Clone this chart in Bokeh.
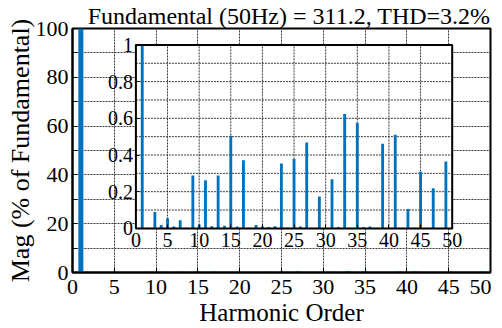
import numpy as np
from bokeh.plotting import figure
from bokeh.models import Range1d, LinearAxis, FixedTicker, PrintfTickFormatter
from bokeh.embed import file_html
from bokeh.resources import INLINE

# ---------------- data ----------------
orders = list(range(1, 51))
mag_pct = [100, 0.004, 0.089, 0.018, 0.055, 0.010, 0.044, 0.004, 0.288, 0.021,
           0.262, 0.012, 0.288, 0.014, 0.505, 0.010, 0.371, 0.004, 0.018, 0.010,
           0.008, 0.012, 0.354, 0.004, 0.378, 0.010, 0.468, 0.001, 0.174, 0.001,
           0.268, 0.008, 0.624, 0.001, 0.575, 0.006, 0.010, 0.003, 0.461, 0.001,
           0.510, 0.001, 0.105, 0.003, 0.309, 0.001, 0.219, 0.001, 0.365, 0.001]

main_xticks = list(range(0, 51, 5))
main_yticks = list(range(0, 101, 10))
main_ylabel_ticks = [0, 20, 40, 60, 80, 100]
inset_xticks = list(range(0, 51, 5))
inset_yticks = [0, 0.2, 0.4, 0.6, 0.8, 1]
inset_ygrid = [0.1, 0.2, 0.3, 0.4, 0.5, 0.6, 0.7, 0.8, 0.9]
inset_xrange = (0, 50)
inset_yrange = (0, 1)

title_text = "Fundamental (50Hz) = 311.2, THD=3.2%"
xlabel = "Harmonic Order"
ylabel = "Mag (% of Fundamental)"

# ---------------- style ----------------
FONT = "Liberation Serif"
BAR = "#0072BD"
GRID = "#3a3a3a"
W, H = 502, 328
FL, FR, FT, FB = 72, 490, 28, 273   # frame edges in figure pixels

p = figure(width=W, height=H, x_range=Range1d(0, 50), y_range=Range1d(0, 100),
           output_backend="svg", toolbar_location=None, title=title_text,
           min_border_left=FL, min_border_right=W - FR,
           min_border_top=FT, min_border_bottom=H - FB)
p.background_fill_color = "white"
p.border_fill_color = "white"
p.outline_line_color = "black"
p.outline_line_width = 2

p.title.text_font = FONT
p.title.text_font_size = "24px"
p.title.text_font_style = "normal"
p.title.text_color = "black"
p.title.align = "right"
p.title.offset = 0
p.title.standoff = 0

xa = p.xaxis[0]
ya = p.yaxis[0]
xa.ticker = FixedTicker(ticks=main_xticks)
ya.ticker = FixedTicker(ticks=main_yticks)
ya.major_label_overrides = {t: ("" if t not in main_ylabel_ticks else str(t)) for t in main_yticks}
# keep the last x label inside the canvas (a figure space pads it to the left)
xa.major_label_overrides = {main_xticks[-1]: str(main_xticks[-1]) + "\u2007"}
for ax in (xa, ya):
    ax.axis_line_color = "black"
    ax.axis_line_width = 2
    ax.major_tick_in = 5
    ax.major_tick_out = 0
    ax.major_tick_line_color = "black"
    ax.minor_tick_line_color = None
    ax.major_label_text_font = FONT
    ax.major_label_text_font_size = "22px"
    ax.major_label_text_color = "black"
    ax.axis_label_text_font = FONT
    ax.axis_label_text_font_style = "normal"
    ax.axis_label_text_color = "black"
xa.axis_label = xlabel
ya.axis_label = ylabel
xa.axis_label_text_font_size = "25px"
ya.axis_label_text_font_size = "26px"
xa.major_label_standoff = 1
xa.axis_label_standoff = -3
ya.major_label_standoff = 4
ya.axis_label_standoff = -2

for g in (p.xgrid[0], p.ygrid[0]):
    g.grid_line_color = GRID
    g.grid_line_dash = "2 1"
    g.grid_line_width = 1

# main bars
p.vbar(x=orders, top=mag_pct, width=0.6, fill_color=BAR, line_color=None)

# ---------------- inset (extra ranges mapped onto the frame) ----------------
IN_L, IN_R = (135.4 - 72) / 418, (451.7 - 72) / 418
IN_B, IN_T = (273 - 228.7) / 245, (273 - 44.5) / 245
ix0, ix1 = inset_xrange
iy0, iy1 = inset_yrange
kx = (ix1 - ix0) / (IN_R - IN_L)
ky = (iy1 - iy0) / (IN_T - IN_B)
p.extra_x_ranges = {"ix": Range1d(ix0 - IN_L * kx, ix1 + (1 - IN_R) * kx)}
p.extra_y_ranges = {"iy": Range1d(iy0 - IN_B * ky, iy1 + (1 - IN_T) * ky)}
R = dict(x_range_name="ix", y_range_name="iy")

p.quad(left=[ix0], right=[ix1], bottom=[iy0], top=[iy1], fill_color="white",
       line_color=None, **R)
gx = [t for t in inset_xticks if ix0 < t < ix1]
p.segment(x0=gx, x1=gx, y0=[iy0] * len(gx), y1=[iy1] * len(gx),
          line_color=GRID, line_dash="2 1", line_width=1, **R)
p.segment(x0=[ix0] * len(inset_ygrid), x1=[ix1] * len(inset_ygrid),
          y0=inset_ygrid, y1=inset_ygrid,
          line_color=GRID, line_dash="2 1", line_width=1, **R)
p.vbar(x=orders, top=np.minimum(np.array(mag_pct), iy1), width=0.45,
       fill_color=BAR, line_color=None, **R)
p.quad(left=[ix0], right=[ix1], bottom=[iy0], top=[iy1], fill_color=None,
       line_color="black", line_width=2, **R)

iax = LinearAxis(fixed_location=iy0, bounds=inset_xrange,
                 ticker=FixedTicker(ticks=inset_xticks), **R)
iay = LinearAxis(fixed_location=ix0, bounds=inset_yrange,
                 ticker=FixedTicker(ticks=inset_yticks),
                 formatter=PrintfTickFormatter(format="%g"), **R)
for ax in (iax, iay):
    ax.axis_line_color = None
    ax.major_tick_in = 4
    ax.major_tick_out = 0
    ax.major_tick_line_color = "black"
    ax.minor_tick_line_color = None
    ax.major_label_text_font = FONT
    ax.major_label_text_font_size = "20px"
    ax.major_label_text_color = "black"
iax.major_label_standoff = 5
iay.major_label_standoff = 3
p.add_layout(iax, "below")
p.add_layout(iay, "left")

open("out.html", "w").write(file_html(p, INLINE))
